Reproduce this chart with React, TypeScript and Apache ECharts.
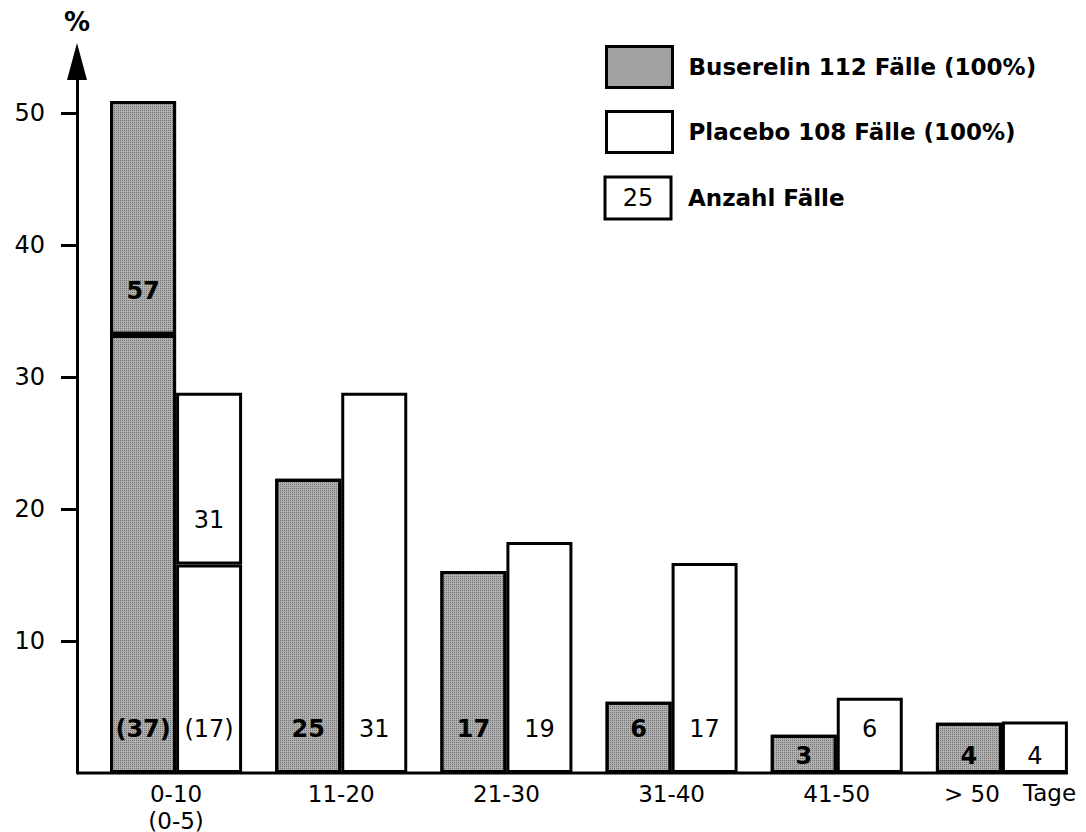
import React, { useEffect, useRef } from "react";
import * as echarts from "echarts";

// ---- data ----
const categories = ["0-10\n(0-5)", "11-20", "21-30", "31-40", "41-50", "> 50"];
const buserelinPct = [50.9, 22.3, 15.3, 5.4, 2.9, 3.8];
const placeboPct = [28.8, 28.8, 17.5, 15.9, 5.7, 3.9];
const buserelinCases = [57, 25, 17, 6, 3, 4];
const placeboCases = [31, 31, 19, 17, 6, 4];
// sub-interval 0-5 days of the first class
const buserelinFirst5Pct = 33.2;
const placeboFirst5Pct = 15.8;
const buserelinFirst5Cases = 37;
const placeboFirst5Cases = 17;
const yTicks = [10, 20, 30, 40, 50];
const legendBuserelin = "Buserelin 112 Fälle (100%)";
const legendPlacebo = "Placebo 108 Fälle (100%)";
const legendCountSample = "25";
const legendCount = "Anzahl Fälle";
const xUnit = "Tage";

const FONT = '"DejaVu Sans", sans-serif';
const GRAY = "#b0b0b0";

function lowerData(pct: number[], first5: number, cases: number[], first5Cases: number) {
  return pct.map((v, i) => {
    const value = i === 0 ? first5 : v;
    const text = i === 0 ? `(${first5Cases})` : String(cases[i]);
    return {
      value,
      labelText: text,
      label: value < 4.5 ? { distance: 5 } : undefined,
    };
  });
}
function upperData(pct: number[], first5: number, cases: number[]) {
  return pct.map((v, i) =>
    i === 0 ? { value: +(v - first5).toFixed(1), labelText: String(cases[0]) } : { value: null, labelText: "" }
  );
}

export default function App() {
  const ref = useRef<HTMLDivElement>(null);
  useEffect(() => {
    const chart = echarts.init(ref.current!, null, { renderer: "svg" });
    const decal = {
      symbol: "rect",
      symbolSize: 1,
      dashArrayX: [1, 1],
      dashArrayY: [1, 1],
      color: "rgba(40,40,40,0.45)",
    };
    const grayStyle = { color: GRAY, borderColor: "#000", borderWidth: 3, decal };
    const whiteStyle = { color: "#fff", borderColor: "#000", borderWidth: 3 };
    const labelBase = {
      show: true,
      position: "insideBottom",
      distance: 32,
      fontSize: 24,
      fontFamily: FONT,
      color: "#000",
      formatter: (p: any) => p.data.labelText,
    };
    const common = { type: "bar", barWidth: 66, barGap: "0%", silent: true };
    const xData = categories.map((c, i) =>
      i === categories.length - 1 ? { value: c, textStyle: { padding: [0, 60, 0, 0] } } : c
    );
    chart.setOption({
      animation: false,
      grid: { left: 93.5, right: 1.5, top: 61.5, bottom: 59, outerBoundsMode: "none" },
      legend: {
        orient: "vertical",
        left: 605,
        top: 45,
        padding: 0,
        itemWidth: 66,
        itemHeight: 41,
        itemGap: 21,
        icon: "rect",
        selectedMode: false,
        data: [legendBuserelin, legendPlacebo],
        itemStyle: { borderColor: "#000", borderWidth: 3 },
        textStyle: { fontSize: 23, fontWeight: "bold", fontFamily: FONT, color: "#000", padding: [0, 0, 0, 11], lineHeight: 28 },
      },
      xAxis: {
        type: "category",
        data: xData,
        axisLine: { show: false },
        axisTick: { show: false },
        axisLabel: { margin: 7, fontSize: 23, lineHeight: 27, fontFamily: FONT, color: "#000" },
      },
      yAxis: {
        type: "value",
        min: 0,
        max: 53.9,
        offset: 16.5,
        name: "%",
        nameLocation: "end",
        nameGap: 27,
        nameTextStyle: { fontSize: 26, fontWeight: "bold", fontFamily: FONT, color: "#000", align: "center" },
        axisLine: {
          show: true,
          symbol: ["none", "triangle"],
          symbolSize: [20, 37],
          lineStyle: { color: "#000", width: 3 },
        },
        axisTick: { show: true, length: 16, customValues: yTicks, lineStyle: { color: "#000", width: 3 } },
        axisLabel: { customValues: yTicks, margin: 32, fontSize: 24, fontFamily: FONT, color: "#000" },
        splitLine: { show: false },
      },
      series: [
        {
          ...common,
          name: legendBuserelin,
          stack: "b",
          itemStyle: grayStyle,
          label: { ...labelBase, fontWeight: "bold" },
          data: lowerData(buserelinPct, buserelinFirst5Pct, buserelinCases, buserelinFirst5Cases),
        },
        {
          ...common,
          name: "Buserelin 0-10 gesamt",
          stack: "b",
          itemStyle: grayStyle,
          label: { ...labelBase, fontWeight: "bold" },
          data: upperData(buserelinPct, buserelinFirst5Pct, buserelinCases),
        },
        {
          ...common,
          name: legendPlacebo,
          stack: "p",
          itemStyle: whiteStyle,
          label: { ...labelBase },
          data: lowerData(placeboPct, placeboFirst5Pct, placeboCases, placeboFirst5Cases),
        },
        {
          ...common,
          name: "Placebo 0-10 gesamt",
          stack: "p",
          itemStyle: whiteStyle,
          label: { ...labelBase },
          data: upperData(placeboPct, placeboFirst5Pct, placeboCases),
        },
      ],
      graphic: [
        {
          type: "line",
          shape: { x1: 77, y1: 773, x2: 1068, y2: 773 },
          style: { stroke: "#000", lineWidth: 3 },
          silent: true,
        },
        {
          type: "rect",
          shape: { x: 605, y: 177, width: 66, height: 42 },
          style: { fill: "#fff", stroke: "#000", lineWidth: 3 },
        },
        {
          type: "text",
          x: 638,
          y: 198,
          style: { text: legendCountSample, fontSize: 24, fontFamily: FONT, fill: "#000", align: "center", verticalAlign: "middle" },
        },
        {
          type: "text",
          x: 688,
          y: 198,
          style: { text: legendCount, fontSize: 23, fontWeight: "bold", fontFamily: FONT, fill: "#000", align: "left", verticalAlign: "middle" },
        },
        {
          type: "text",
          x: 1023,
          y: 781,
          style: { text: xUnit, fontSize: 23, fontFamily: FONT, fill: "#000", align: "left", verticalAlign: "top" },
        },
      ],
    });
    return () => chart.dispose();
  }, []);
  return <div ref={ref} style={{ width: 1086, height: 832, position: "absolute", left: 0, top: 0 }} />;
}
